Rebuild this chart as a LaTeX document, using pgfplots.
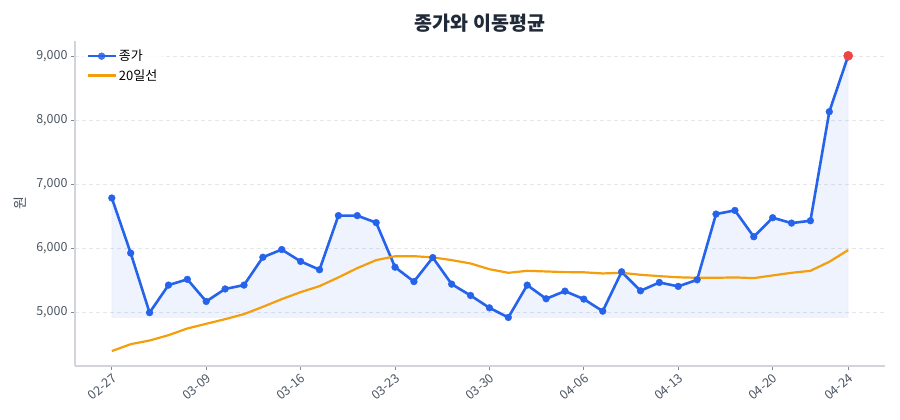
\documentclass[border=0pt]{standalone}
\usepackage{fontspec}
\setmainfont{Noto Sans CJK KR}
\usepackage{pgfplots}
\usepackage{pgfplotstable}
\pgfplotsset{compat=1.18}
\usepgfplotslibrary{fillbetween}

\definecolor{closeblue}{HTML}{2563EB}
\definecolor{maorange}{HTML}{F59E0B}
\definecolor{lastred}{HTML}{EF4444}
\definecolor{gridgray}{HTML}{E5E7EB}
\definecolor{spinegray}{HTML}{D1D5DB}
\definecolor{ticktext}{HTML}{4B5563}
\definecolor{titletext}{HTML}{1F2937}

% trading-day index, closing price, 20-day moving average
\pgfplotstableread{
idx close ma
0  6790 4400
1  5930 4508
2  5000 4565
3  5430 4648
4  5520 4753
5  5175 4826
6  5370 4898
7  5430 4977
8  5865 5091
9  5985 5211
10 5800 5320
11 5670 5414
12 6515 5550
13 6515 5695
14 6405 5820
15 5710 5880
16 5485 5882
17 5860 5862
18 5445 5820
19 5268 5768
20 5075 5678
21 4925 5622
22 5430 5653
23 5217 5643
24 5336 5633
25 5211 5630
26 5023 5612
27 5638 5622
28 5341 5591
29 5471 5570
30 5410 5552
31 5513 5544
32 6539 5544
33 6596 5550
34 6185 5539
35 6482 5581
36 6398 5622
37 6435 5653
38 8137 5794
39 9010 5977
}\pricedata

\pgfplotsset{
  closestyle/.style={closeblue, line width=2.6bp, mark=*, mark size=3.4bp,
    mark options={solid, fill=closeblue, draw=closeblue, line width=0.4bp}},
  mastyle/.style={maorange, line width=2.2bp, no marks},
}

\begin{document}
\begin{tikzpicture}[x=1bp,y=1bp]
\begin{axis}[
  at={(0,0)}, anchor=south west,
  scale only axis,
  width=810bp, height=325bp,
  xmin=-1.95, xmax=40.95,
  ymin=4167, ymax=9241,
  axis x line*=bottom, axis y line*=left,
  axis line style={spinegray, line width=1.2bp},
  xtick={0,5,10,15,20,25,30,35,39},
  xticklabels={02-27,03-09,03-16,03-23,03-30,04-06,04-13,04-20,04-24},
  ytick={5000,6000,7000,8000,9000},
  scaled y ticks=false,
  /pgf/number format/.cd, 1000 sep={,}, assume math mode=true,
  /pgfplots/.cd,
  tick style={color=ticktext!70, line width=0.8bp},
  major tick length=4bp,
  tick align=outside,
  ymajorgrids,
  grid style={gridgray, dash pattern=on 4bp off 3bp, line width=0.8bp},
  tick label style={color=ticktext, font=\fontsize{12.5bp}{14bp}\selectfont},
  x tick label style={rotate=40, anchor=north east, inner sep=2bp},
  ylabel={원},
  ylabel style={color=ticktext, font=\fontsize{14bp}{16bp}\selectfont, yshift=3bp},
  title={\textbf{종가와 이동평균}},
  title style={color=titletext, font=\fontsize{19.5bp}{22bp}\selectfont, yshift=-1bp},
  legend style={at={(0.01,0.985)}, anchor=north west, draw=none, fill=white, fill opacity=0.85, text opacity=1,
    font=\fontsize{13bp}{15bp}\selectfont, row sep=3bp},
  legend cell align=left,
  legend image code/.code={%
    \draw[mark repeat=2, mark phase=2, #1] plot coordinates {(0bp,0bp) (14bp,0bp) (28bp,0bp)};},
  clip=false,
]
  \addlegendimage{closestyle}
  \addlegendentry{종가}
  \addlegendimage{mastyle}
  \addlegendentry{20일선}

  % shaded band between the closing price and its lowest value
  \addplot[draw=none, name path=closepath, forget plot] table[x=idx, y=close] {\pricedata};
  \addplot[draw=none, name path=floorpath, forget plot] coordinates {(0,4925) (39,4925)};
  \addplot[fill=closeblue, fill opacity=0.08, draw=closeblue, draw opacity=0.08, forget plot]
    fill between[of=closepath and floorpath];

  \addplot[closestyle, forget plot] table[x=idx, y=close] {\pricedata};
  \addplot[mastyle, forget plot] table[x=idx, y=ma] {\pricedata};

  % latest close
  \addplot[only marks, mark=*, mark size=4.6bp, mark options={fill=lastred, draw=lastred}, forget plot]
    coordinates {(39,9010)};
\end{axis}
\pgfresetboundingbox
\path[use as bounding box] (-75bp,-54bp) rectangle (825bp,366bp);
\end{tikzpicture}
\end{document}
